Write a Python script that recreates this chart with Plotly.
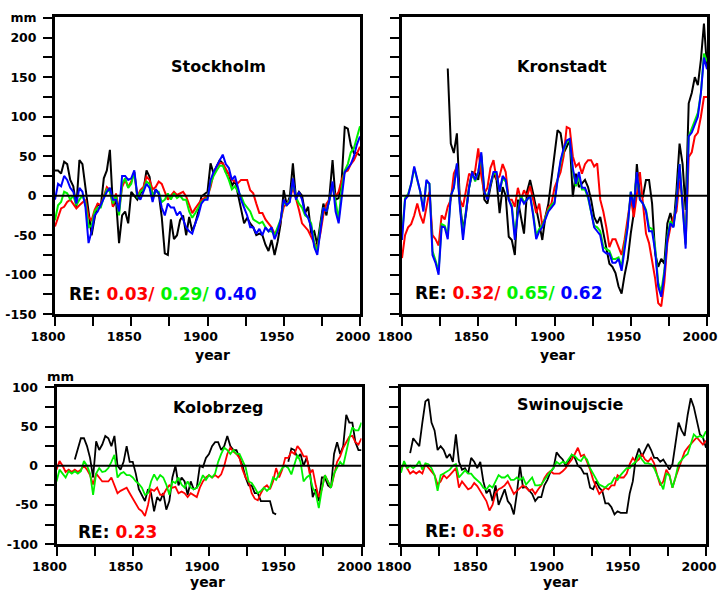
import plotly.graph_objects as go

years = list(range(1800, 2001, 2))
N = None

# ---------------- Stockholm ----------------
stockholm_black = [
    32, 32, 28, 43, 40, 20, 12, -14, 45, 40,
    10, -22, -50, -28, -10, -14, 22, 32, 58, -14,
    -5, -60, -25, -20, -35, 5, 0, -5, 3, 7,
    32, 24, -2, 8, 3, -27, -73, -75, -30, -55,
    -50, -31, -25, -50, -27, -45, -35, -20, -1, 2,
    5, 41, 28, 37, 45, 41, 30, 28, 12, 20,
    3, -15, -35, -28, -35, -40, -50, -48, -50, -62,
    -70, -56, -75, -58, -35, 7, -12, -1, 41, -3,
    5, 0, -22, -14, -48, -45, -62, -35, -10, -25,
    0, 45, -5, -3, 20, 87, 85, 64, 54, 54,
    51]
stockholm_red = [
    -39, -27, -16, -14, -8, -5, -10, -16, -12, -8,
    -5, -27, -31, -18, -10, -12, -1, 11, 7, -14,
    3, -18, 11, 20, 11, 18, 30, -1, 7, 11,
    24, 20, 8, 11, 18, 15, 5, -5, 0, 5,
    1, 3, 5, -1, -12, -22, -16, -10, -5, -3,
    -1, 11, 28, 37, 41, 41, 34, 28, 20, 18,
    16, 20, 20, 20, 7, 3, -10, -22, -22, -30,
    -35, -40, -48, -45, -31, -14, -10, -5, 11, -2,
    -18, -35, -40, -44, -52, -60, -65, -48, -24, -10,
    -5, 11, -1, 5, 20, 30, 32, 40, 45, 53,
    62]
stockholm_green = [
    -31, -12, -8, 5, 3, -5, 0, -12, -5, 0,
    -10, -40, -38, -20, -15, -15, -2, 8, 5, -10,
    0, -25, 15, 22, 10, 15, 30, -3, 5, 8,
    18, 15, 0, 5, 5, -8, -5, 3, -5, 3,
    -3, 0, -5, -5, -20, -28, -22, -15, -8, -5,
    -3, 15, 25, 32, 38, 38, 30, 20, 8, 12,
    5, 0, -10, -15, -20, -30, -32, -35, -33, -40,
    -45, -45, -50, -40, -30, -8, -12, -5, 18, -2,
    -10, -15, -25, -28, -35, -60, -70, -40, -15, -20,
    -5, 15, -10, -30, 10, 32, 40, 55, 60, 75,
    88]
stockholm_blue = [
    -5, 15, 12, 25, 20, 10, 5, -10, 10, 5,
    -15, -60, -45, -25, -20, -12, -2, 5, 10, -5,
    -5, -20, 25, 25, 20, 22, 32, 0, -5, 5,
    15, 10, -8, 8, 3, -15, -25, -10, -15, -15,
    -25, -20, -30, -40, -45, -48, -35, -25, -10, -5,
    -5, 20, 30, 38, 45, 52, 40, 35, 20, 25,
    10, -5, -15, -25, -40, -40, -48, -42, -50, -40,
    -45, -40, -55, -45, -30, -5, -12, -8, 22, -5,
    5, -5, -22, -28, -40, -65, -75, -45, -15, -20,
    -5, 18, -20, -35, 0, 30, 35, 40, 50, 65,
    75]

# ---------------- Kronstadt ----------------
kronstadt_black = [
    N, N, N, N, N, N, N, N, N, N,
    N, N, N, N, N, 161, 66, 54, 79, -10,
    -43, -22, 11, 30, 28, 20, 50, -5, -10, 11,
    28, 20, -22, 11, 0, -52, -56, -75, -5, -27,
    -48, 5, 20, 3, -14, -35, -56, -27, -10, 22,
    49, 83, 79, 54, 62, 70, -1, 28, 11, 15,
    20, 11, -5, -27, -35, -27, -48, -65, -86, -90,
    -98, -115, -124, -100, -81, -48, -22, 40, 0, -1,
    20, 20, -10, -73, -90, -80, -86, -35, -22, -39,
    7, 66, 40, -18, 117, 130, 150, 140, 172, 218,
    163]
kronstadt_red = [
    -79, -50, -40, -36, -25, -10, -25, -35, -15, 5,
    -50, -55, -63, -25, -30, -14, -5, 28, 37, -5,
    -14, 7, 28, 24, 32, 60, 25, 3, 10, 35,
    45, 20, 25, 40, 30, -5, -5, -14, 10, -5,
    7, -1, 12, -5, -22, -10, -38, -27, -15, -10,
    10, 20, 30, 50, 87, 85, 50, 37, 41, 28,
    40, 45, 45, 37, 41, -5, -20, -40, -65, -55,
    -55, -65, -75, -55, -30, -2, -27, 5, 30, -10,
    -48, -60, -80, -105, -136, -140, -110, -60, -40, -27,
    -20, 20, -5, -60, 49, 55, 75, 80, 100, 125,
    125]
kronstadt_green = [
    -50, -3, 2, 15, 35, 20, 5, -18, 18, 15,
    -70, -82, -95, -36, -38, -50, 0, 10, 40, -12,
    -50, -18, 10, 28, 18, 30, 52, 5, -3, 15,
    28, 28, 5, 22, 18, -5, -12, -50, -20, 0,
    -8, -5, 0, -22, -50, -42, -38, -28, -18, -12,
    -8, 20, 42, 58, 68, 70, 32, 12, 25, 8,
    8, -3, -20, -38, -40, -45, -65, -68, -70, -80,
    -80, -78, -90, -62, -38, 5, -12, 28, -5, -10,
    -18, -40, -42, -65, -110, -122, -95, -52, -32, -38,
    -8, 40, -8, -62, 75, 85, 95, 105, 130, 180,
    170]
kronstadt_blue = [
    -56, -5, 0, 15, 37, 20, 5, -20, 20, 15,
    -75, -85, -100, -39, -40, -55, 0, 10, 41, -15,
    -56, -20, 10, 30, 20, 30, 55, 5, -5, 15,
    30, 30, 5, 25, 20, -5, -15, -56, -22, -3,
    -10, -5, 0, -25, -55, -45, -40, -30, -20, -15,
    -10, 20, 45, 60, 70, 72, 35, 15, 30, 10,
    10, 0, -20, -40, -45, -50, -70, -73, -73, -85,
    -85, -80, -95, -65, -40, 5, -15, 30, -5, -10,
    -20, -45, -45, -70, -115, -128, -100, -55, -35, -40,
    -10, 40, -10, -67, 75, 80, 90, 100, 130, 175,
    160]

# ---------------- Kolobrzeg ----------------
kolobrzeg_black = [
    N, N, N, N, N, N, 8, 20, 35, 35,
    25, 10, -15, 31, 20, 27, 38, 35, 25, 38,
    0, -5, 5, 25, 5, 5, -10, -30, -37, -45,
    -30, -35, -58, -40, -45, -35, -56, -45, -15, 0,
    -25, -15, -20, -37, -20, -30, -28, 0, -2, 10,
    15, 25, 30, 30, 20, 25, 38, 25, 20, 20,
    10, 0, -15, -25, -25, -35, -35, -45, -45, -45,
    -45, -60, -62, N, N, N, 5, 22, 20, 10,
    15, 0, 10, -5, -40, -30, -45, -15, -15, -25,
    -28, 15, 30, 15, 25, 65, 55, 55, 30, 20,
    20]
kolobrzeg_red = [
    -5, 6, 0, -8, -5, -8, -5, -8, -5, 0,
    -5, -12, -24, -10, -15, -20, -20, -20, -15, -25,
    -35, -32, -30, -28, -35, -42, -48, -55, -58, -64,
    -50, -30, -32, -28, -37, -37, -30, -25, -28, -27,
    -35, -33, -35, -40, -35, -37, -40, -28, -20, -15,
    -12, -15, -12, -15, -11, 0, 15, 23, 18, 15,
    10, -5, -15, -20, -35, -42, -44, -35, -28, -25,
    -30, -20, -3, -15, -5, 10, 10, 18, 15, 25,
    20, 12, 12, -10, -5, -25, -40, -30, -12, -20,
    -28, -12, 5, 12, 23, 30, 37, 38, 30, 27,
    35]
kolobrzeg_green = [
    -20, -5, -10, -15, -7, -10, -7, -10, -7, 6,
    0, -10, -37, -10, -3, -8, -7, -3, 5, 14,
    -15, -10, -8, -12, -12, -15, -20, -23, -28, -37,
    -35, -20, -11, -18, -12, -15, -24, -37, -20, -22,
    -15, -24, -28, -20, -28, -30, -28, -22, -12, -18,
    -12, -15, -10, 5, 15, 23, 20, 15, 20, 15,
    15, 6, -2, -20, -22, -28, -35, -32, -28, -32,
    -28, -15, -18, -10, -3, 0, -3, -11, 2, 14,
    5, -20, -15, -12, -28, -35, -54, -30, -12, -20,
    -28, -10, -2, 5, 0, 20, 35, 49, 45, 45,
    55]

# ---------------- Swinoujscie ----------------
swinoujscie_black = [
    N, N, N, 16, 35, 30, 25, 55, 82, 85,
    55, 45, 20, 25, 20, 10, 15, 5, 40, 5,
    -5, -3, -10, 10, 5, -3, 5, -20, -35, -30,
    -45, -25, -50, -40, -30, -45, -50, -62, -35, 0,
    -28, -27, -32, -36, -45, -40, -40, -25, -18, -8,
    -3, 17, 12, 8, 0, 5, 14, 10, 0, -3,
    -10, -10, -28, -30, -20, -28, -32, -48, -48, -53,
    -62, -58, -60, -60, -60, -35, -20, 10, 22, 12,
    20, 28, 20, 10, 10, 5, 8, 2, -5, 2,
    30, 55, 45, 38, 65, 86, 75, 55, 40, 36,
    23]
swinoujscie_red = [
    -3, 3, -3, -10, -7, -10, -7, -10, 2, -3,
    -7, -12, -24, -20, -12, -16, -12, -8, -3, -28,
    -20, -25, -30, -28, -22, -26, -32, -38, -45, -57,
    -50, -35, -30, -28, -25, -20, -28, -36, -32, -28,
    -25, -28, -32, -30, -36, -30, -25, -16, -10, -7,
    -10, -10, -10, -7, -3, 3, 8, 15, 23, 12,
    14, 5, -5, -18, -28, -36, -32, -28, -30, -25,
    -25, -12, -15, -15, -10, 2, 10, 5, 8, 15,
    8, 5, 10, 3, -12, -25, -20, -5, -12, -28,
    -15, -3, 8, 18, 23, 28, 32, 36, 32, 27,
    32]
swinoujscie_green = [
    -9, 6, -3, 0, -3, 0, 6, -5, 3, 2,
    -3, -12, -32, -12, -10, -8, -5, 0, 2, -15,
    -10, -6, -10, -10, -15, -18, -22, -28, -30, -25,
    -28, -20, -12, -15, -15, -12, -18, -18, -15, -18,
    -15, -24, -20, -15, -25, -25, -24, -18, -12, -7,
    -3, 5, 2, 5, 3, 8, 14, 12, 8, 6,
    12, 8, -3, -10, -18, -24, -26, -28, -24, -22,
    -15, -18, -12, -8, -3, -3, 2, 5, 14, 8,
    3, 3, 2, -3, -12, -20, -30, -10, -12, -28,
    -15, 3, 8, 12, 15, 28, 40, 36, 38, 36,
    44]

# panel labels and RE scores
station_names = ["Stockholm", "Kronstadt", "Kolobrzeg", "Swinoujscie"]
re_scores = [["0.03", "0.29", "0.40"], ["0.32", "0.65", "0.62"], ["0.23"], ["0.36"]]

top_ticks = list(range(-150, 226, 25))
top_text = [str(v) if v % 50 == 0 else "" for v in top_ticks]
top_text[-1] = "mm"
bot_ticks = list(range(-100, 101, 25))
bot_text = [str(v) if v % 50 == 0 else "" for v in bot_ticks]
x_ticks = list(range(1800, 2001, 25))
x_text = [str(v) if v % 50 == 0 else "" for v in x_ticks]

BLACK, RED, GREEN, BLUE = "#000000", "#ff0000", "#00f000", "#0000ff"
W, H = 723, 592

panels = [
    dict(series=[stockholm_black, stockholm_red, stockholm_green, stockholm_blue],
         colors=[BLACK, RED, GREEN, BLUE], xd=(55, 360), yd=(314.2, 17.2), yr=(-150, 226),
         ticks=(top_ticks, top_text), width=2.0),
    dict(series=[kronstadt_black, kronstadt_red, kronstadt_green, kronstadt_blue],
         colors=[BLACK, RED, GREEN, BLUE], xd=(402, 707), yd=(314.2, 17.2), yr=(-150, 226),
         ticks=(top_ticks, [""] * len(top_ticks)), width=2.0),
    dict(series=[kolobrzeg_black, kolobrzeg_red, kolobrzeg_green],
         colors=[BLACK, RED, GREEN], xd=(56.5, 361.5), yd=(544.2, 386.8), yr=(-100, 100.6),
         ticks=(bot_ticks, bot_text), width=1.8),
    dict(series=[swinoujscie_black, swinoujscie_red, swinoujscie_green],
         colors=[BLACK, RED, GREEN], xd=(401, 706), yd=(544.2, 386.8), yr=(-100, 100.6),
         ticks=(bot_ticks, [""] * len(bot_ticks)), width=1.8),
]

fig = go.Figure()
tickfont = dict(family="DejaVu Sans", size=12.5, color="black", weight="bold")
shapes = []
for i, p in enumerate(panels):
    k = "" if i == 0 else str(i + 1)
    for s, c in zip(p["series"], p["colors"]):
        fig.add_trace(go.Scatter(x=years, y=s, mode="lines", xaxis="x" + k, yaxis="y" + k,
                                 line=dict(color=c, width=p["width"]), connectgaps=False,
                                 showlegend=False, hoverinfo="skip"))
    fig.layout["xaxis" + k] = dict(
        domain=[p["xd"][0] / W, p["xd"][1] / W], range=[1800, 2000], anchor="y" + k,
        tickmode="array", tickvals=x_ticks, ticktext=x_text, ticks="outside", ticklen=9,
        tickwidth=2, tickcolor="black", showline=True, linecolor="black", linewidth=3,
        mirror=True, showgrid=False, zeroline=False, tickfont=tickfont, ticklabelshift=-7,
        automargin=False)
    fig.layout["yaxis" + k] = dict(
        domain=[1 - p["yd"][0] / H, 1 - p["yd"][1] / H], range=list(p["yr"]), anchor="x" + k,
        tickmode="array", tickvals=p["ticks"][0], ticktext=p["ticks"][1], ticks="outside",
        ticklen=9, tickwidth=2, tickcolor="black", showline=True, linecolor="black",
        linewidth=3, mirror=True, showgrid=False, zeroline=False, tickfont=tickfont,
        ticklabelstandoff=4, automargin=False)
    shapes.append(dict(type="line", xref="x" + k, yref="y" + k, x0=1800, x1=2000, y0=0, y1=0,
                       line=dict(color="black", width=2)))

ann = []
title_pos = [(218, 66), (562, 66), (219, 407), (570, 404)]
for name, (px, py) in zip(station_names, title_pos):
    ann.append(dict(text=name, x=px / W, y=1 - py / H, xref="paper", yref="paper",
                    showarrow=False, xanchor="center", yanchor="middle",
                    font=dict(family="DejaVu Sans", size=16, color="black", weight="bold")))

re_pos = [(67, 294), (413, 293), (76, 532), (423, 531)]
score_colors = [RED, GREEN, BLUE]
for scores, (px, py) in zip(re_scores, re_pos):
    parts = []
    for j, s in enumerate(scores):
        sep = "/" if j < len(scores) - 1 else ""
        parts.append(f"<span style='color:{score_colors[j]}'>{s}{sep}</span>")
    txt = "RE: " + " ".join(parts)
    ann.append(dict(text=txt, x=px / W, y=1 - py / H, xref="paper", yref="paper",
                    showarrow=False, xanchor="left", yanchor="middle",
                    font=dict(family="DejaVu Sans", size=17, color="black", weight="bold")))

for px, py in [(212, 355), (557, 355), (208, 582), (560, 582)]:
    ann.append(dict(text="year", x=px / W, y=1 - py / H, xref="paper", yref="paper",
                    showarrow=False, xanchor="center", yanchor="middle",
                    font=dict(family="DejaVu Sans", size=14, color="black", weight="bold")))

ann.append(dict(text="mm", x=60 / W, y=1 - 376 / H, xref="paper", yref="paper",
                showarrow=False, xanchor="center", yanchor="middle",
                font=dict(family="DejaVu Sans", size=13, color="black", weight="bold")))

fig.update_layout(width=W, height=H, margin=dict(l=0, r=0, t=0, b=0),
                  paper_bgcolor="white", plot_bgcolor="white",
                  shapes=shapes, annotations=ann, showlegend=False)

fig.write_html("out.html", config={"displayModeBar": False, "staticPlot": True},
               post_script="document.body.style.margin='0';document.body.style.overflow='hidden';")
